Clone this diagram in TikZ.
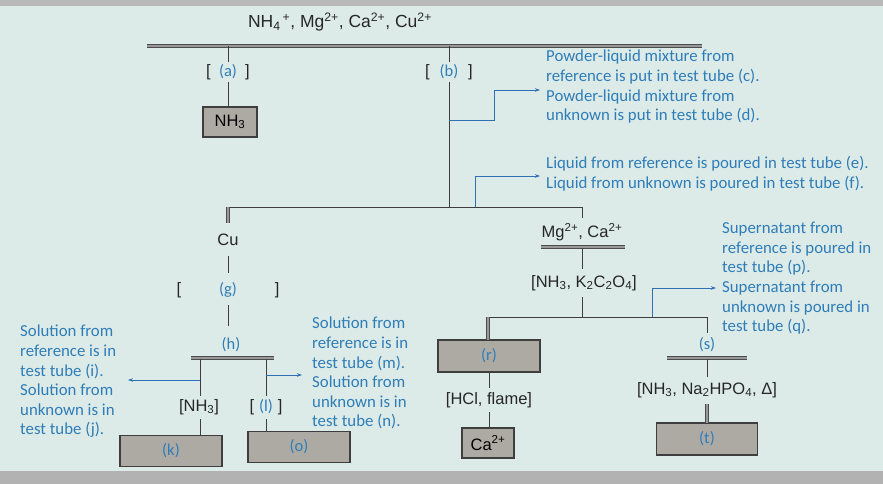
\documentclass[tikz,border=0pt]{standalone}
\usepackage{fontspec}
\setmainfont{Liberation Sans}
\newfontfamily\bluefont{Carlito}
\usetikzlibrary{arrows.meta}
\definecolor{bg}{HTML}{DDEBE8}
\definecolor{txtblue}{HTML}{2E7DB8}
\definecolor{arrblue}{HTML}{2F6FB3}
\definecolor{boxfill}{HTML}{ADAAA4}
\definecolor{linegray}{HTML}{3E3E3E}
\newcommand{\bl}[1]{\textcolor{txtblue}{\bluefont\fontsize{16.5}{18}\selectfont #1}}
\begin{document}
\begin{tikzpicture}[x=1pt,y=-1pt,
  chem/.style={font=\fontsize{16.5}{18}\selectfont, text=black!85, inner sep=2pt},
  blab/.style={font=\bluefont\fontsize{16.8}{19.6}\selectfont, text=txtblue, align=left, anchor=north west, inner sep=0pt},
  gbox/.style={draw=linegray, line width=1.1pt, fill=boxfill, inner sep=0pt, font=\fontsize{16.5}{18}\selectfont},
  ln/.style={draw=linegray, line width=0.9pt},
  dbl/.style={draw=black!70, line width=1pt, double=black!40, double distance=1.3pt},
  barrow/.style={draw=arrblue, line width=0.8pt, -{Stealth[length=5pt,width=3.5pt]}}]
\useasboundingbox (0,0) rectangle (883,484);
\fill[bg] (0,0) rectangle (883,484);
\fill[gray!55] (0,0) rectangle (883,6);
\fill[gray!60] (0,471) rectangle (883,484);

% top
\node[chem, font=\fontsize{17.5}{19}\selectfont] (top) at (340,22) {NH\textsubscript{4}\textsuperscript{\,+}, Mg\textsuperscript{2+}, Ca\textsuperscript{2+}, Cu\textsuperscript{2+}};
\coordinate (barL) at (147,46);
\coordinate (barR) at (702,46);
\draw[dbl] (barL) -- (barR);
\coordinate (aTop) at (228,46);
\coordinate (bTop) at (449,46);

% branch a
\node[chem] (a) at (228,72) {[\hspace{0.5em}\bl{(a)}\hspace{0.5em}]};
\node[gbox, minimum width=54pt, minimum height=30pt] (nh3) at (230,122) {NH\textsubscript{3}};
\draw[ln] (aTop) -- (a.north);
\draw[ln] (a.south) -- (a.south |- nh3.north);

% branch b
\node[chem] (b) at (449,72) {[\hspace{0.6em}\bl{(b)}\hspace{0.6em}]};
\coordinate (bJ) at (449,207);
\coordinate (bA) at (449,120);
\draw[ln] (bTop) -- (b.north);
\draw[ln] (b.south) -- (bJ);

\node[blab] (txt1) at (546,50) {Powder-liquid mixture from\\reference is put in test tube (c).\\Powder-liquid mixture from\\unknown is put in test tube (d).};
\coordinate (arr1) at (540,90);
\draw[barrow] (bA) -- (494,120) -- (494,90) -- (arr1);

\node[blab] (txt2) at (546,156) {Liquid from reference is poured in test tube (e).\\Liquid from unknown is poured in test tube (f).};
\coordinate (arr2s) at (475,207);
\coordinate (arr2) at (540,176);
\draw[barrow] (arr2s) |- (arr2);

% second level
\coordinate (cuTop) at (228,207);
\coordinate (mgTop) at (582,207);
\draw[ln] (cuTop) -- (mgTop);

% Cu branch
\node[chem] (cu) at (228,240) {Cu};
\draw[dbl] (cuTop) -- (228,223);
\node[chem] (g) at (228,290) {[\hspace{2.3em}\bl{(g)}\hspace{2.3em}]};
\draw[ln] (228,256) -- (228,273);
\node[inner sep=2pt] (h) at (231,345) {\bl{(h)}};
\draw[ln] (228,305) -- (228,326);
\coordinate (hL) at (191,358);
\coordinate (hR) at (274,358);
\draw[dbl] (hL) -- (hR);

\node[chem] (nh3b) at (199,407) {[NH\textsubscript{3}]};
\node[chem] (l) at (266,407) {[\hspace{0.3em}\bl{(l)}\hspace{0.3em}]};
\node[gbox, minimum width=102pt, minimum height=31pt] (k) at (171,451) {\bl{(k)}};
\node[gbox, minimum width=102pt, minimum height=31pt] (o) at (299,447) {\bl{(o)}};
\draw[ln] (200,359) -- (200,396);
\draw[ln] (200,419) -- (200,436);
\draw[ln] (266,359) -- (266,396);
\draw[ln] (266,419) -- (266,432);

\coordinate (arrLs) at (200,380);
\coordinate (arrL) at (128,380);
\draw[barrow] (arrLs) -- (arrL);
\coordinate (arrRs) at (266,375);
\coordinate (arrR) at (302,375);
\draw[barrow] (arrRs) -- (arrR);

\node[blab] (txt3) at (20,325) {Solution from\\reference is in\\test tube (i).\\Solution from\\unknown is in\\test tube (j).};
\node[blab] (txt4) at (312,317) {Solution from\\reference is in\\test tube (m).\\Solution from\\unknown is in\\test tube (n).};

% Mg branch
\node[chem] (mg) at (582,232) {Mg\textsuperscript{2+}, Ca\textsuperscript{2+}};
\draw[ln] (mgTop) -- (582,218);
\coordinate (mgL) at (541,247);
\coordinate (mgR) at (625,247);
\draw[dbl] (mgL) -- (mgR);
\node[chem] (ox) at (584,283) {[NH\textsubscript{3}, K\textsubscript{2}C\textsubscript{2}O\textsubscript{4}]};
\draw[ln] (582,248) -- (582,269);
\draw[ln] (582,297) -- (582,317);
\coordinate (rTop) at (488,317);
\coordinate (sTop) at (707,317);
\draw[ln] (rTop) -- (sTop) -- (707,333);

\node[gbox, minimum width=102pt, minimum height=32pt] (r) at (489,356) {\bl{(r)}};
\draw[dbl] (rTop) -- (488,340);
\node[chem] (hcl) at (489,400) {[HCl, flame]};
\draw[ln] (489,372) -- (489,388);
\draw[ln] (489,412) -- (489,428);
\node[gbox, minimum width=52pt, minimum height=30pt] (ca) at (488,443) {Ca\textsuperscript{2+}};

\node[inner sep=2pt] (s) at (707,345) {\bl{(s)}};
\coordinate (sL) at (667,358);
\coordinate (sR) at (747,358);
\draw[dbl] (sL) -- (sR);
\node[chem] (na) at (707,390) {[NH\textsubscript{3}, Na\textsubscript{2}HPO\textsubscript{4}, Δ]};
\draw[ln] (707,359) -- (707,377);
\node[gbox, minimum width=101pt, minimum height=32pt] (t) at (707,439) {\bl{(t)}};
\draw[dbl] (707,404) -- (707,423);

\coordinate (arr3s) at (652,317);
\coordinate (arr3) at (716,288);
\draw[barrow] (arr3s) |- (arr3);
\node[blab] (txt5) at (722,222) {Supernatant from\\reference is poured in\\test tube (p).\\Supernatant from\\unknown is poured in\\test tube (q).};
\end{tikzpicture}
\end{document}
